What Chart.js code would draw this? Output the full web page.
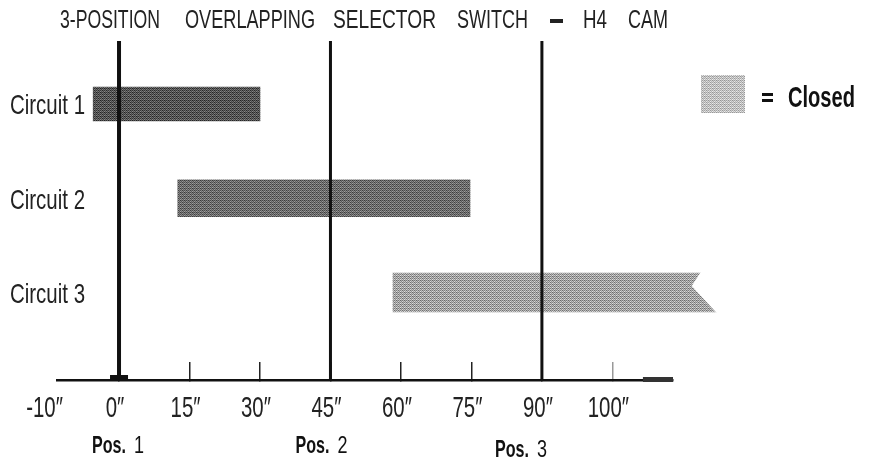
<!DOCTYPE html>
<html>
<head>
<meta charset="utf-8">
<script src="https://cdn.jsdelivr.net/npm/chart.js@4.4.1/dist/chart.umd.min.js"></script>
<style>
  html, body { margin: 0; padding: 0; background: #fff; }
  #wrap { width: 873px; height: 460px; position: relative; }
</style>
</head>
<body>
<div id="wrap"><canvas id="camChart"></canvas></div>
<script>
// cam chart data
const circuits = ["Circuit 1", "Circuit 2", "Circuit 3"];
const closedFrom = [-5.5, 12.5, 58.3];
const closedTo = [30, 74.7, 127.2];
const positions = [0, 45, 90];
const posNames = ["1", "2", "3"];
const tickValues = [-15, 0, 15, 30, 45, 60, 75, 90, 105];
const tickLabels = ["-10\u2033", "0\u2033", "15\u2033", "30\u2033", "45\u2033", "60\u2033", "75\u2033", "90\u2033", "100\u2033"];

const Y_TOP = -0.668, Y_BOTTOM = 2.928;
const SANS = "'Liberation Sans', Arial, 'DejaVu Sans', sans-serif";

// ordered dither so the fills look like the scanned screen tone
const BAYER = [[0, 8, 2, 10], [12, 4, 14, 6], [3, 11, 1, 9], [15, 7, 13, 5]];
function ditherFill(base, amp) {
  const c = document.createElement("canvas");
  c.width = 4; c.height = 4;
  const g = c.getContext("2d");
  for (let r = 0; r < 4; r++) {
    for (let k = 0; k < 4; k++) {
      const v = Math.max(0, Math.min(255, Math.round(base + (BAYER[r][k] - 7.5) * amp)));
      g.fillStyle = "rgb(" + v + "," + v + "," + v + ")";
      g.fillRect(k, r, 1, 1);
    }
  }
  return g.createPattern(c, "repeat");
}

const barColors = [ditherFill(84, 7), ditherFill(108, 7), ditherFill(163, 8)];
const barSizes = [34, 37, 39];

const datasets = [];
circuits.forEach((c, i) => {
  datasets.push({
    type: "bar",
    label: c,
    data: [{ x: [closedFrom[i], closedTo[i]], y: i }],
    backgroundColor: barColors[i],
    barThickness: barSizes[i],
    grouped: false,
    clip: false,
    order: 2
  });
});
positions.forEach((p, i) => {
  datasets.push({
    type: "line",
    label: "pos" + (i + 1),
    data: [{ x: p, y: Y_TOP }, { x: p, y: Y_BOTTOM }],
    borderColor: "#111",
    borderWidth: i == 0 ? 4 : 3,
    pointRadius: 0,
    clip: false,
    order: 0
  });
});

// condensed text: the scan uses a light narrow face
function squeeze(ctx, text, x, y, k) {
  const w = ctx.measureText(text).width;
  ctx.fillText(text, x, y, w * k);
}

// title, legend, labels, notch on circuit 3
const extras = {
  id: "extras",
  afterDatasetsDraw(chart) {
    const ctx = chart.ctx;
    const xs = chart.scales.x;
    const ys = chart.scales.y;
    const area = chart.chartArea;

    // ragged end of circuit 3
    const el = chart.getDatasetMeta(2).data[0];
    const top = el.y - el.height / 2, bot = el.y + el.height / 2;
    ctx.save();
    ctx.fillStyle = "#fff";
    ctx.beginPath();
    ctx.moveTo(el.x - 16, top - 1);
    ctx.lineTo(el.x - 25, top + el.height * 0.33);
    ctx.lineTo(el.x, bot + 1);
    ctx.lineTo(el.x + 3, bot + 1);
    ctx.lineTo(el.x + 3, top - 1);
    ctx.closePath();
    ctx.fill();

    // foot on the 0 line and the stub at the axis end
    ctx.fillStyle = "#111";
    ctx.fillRect(xs.getPixelForValue(0) - 9, area.bottom - 5, 18, 5);
    ctx.fillStyle = "#333";
    ctx.fillRect(xs.getPixelForValue(111.5), area.bottom - 3, area.right - xs.getPixelForValue(111.5), 5);

    ctx.fillStyle = "#222";
    ctx.textBaseline = "alphabetic";

    // title
    ctx.textAlign = "left";
    ctx.font = "25px " + SANS;
    const words = [["3-POSITION", 60, 100], ["OVERLAPPING", 185, 130], ["SELECTOR", 333, 103],
                   ["SWITCH", 457, 71], ["H4", 583, 24], ["CAM", 628, 40]];
    words.forEach(w => ctx.fillText(w[0], w[1], 28, w[2]));
    ctx.fillRect(550, 19, 13, 4);

    // circuit names
    ctx.font = "28px " + SANS;
    circuits.forEach((c, i) => {
      ctx.fillText(c, 10, ys.getPixelForValue(i) + 10.5, 75);
    });

    // x tick labels
    ctx.textAlign = "center";
    ctx.font = "30px " + SANS;
    tickValues.forEach((v, i) => {
      squeeze(ctx, tickLabels[i], xs.getPixelForValue(v) - 4, 417, 0.68);
    });

    // legend
    ctx.fillStyle = ditherFill(192, 6);
    ctx.fillRect(701, 75, 44, 38);
    ctx.fillStyle = "#111";
    ctx.fillRect(762, 93, 11, 3);
    ctx.fillRect(762, 99, 11, 3);
    ctx.textAlign = "left";
    ctx.font = "bold 30px " + SANS;
    ctx.fillText("Closed", 788, 107, 67);

    // position names under the axis
    const shift = [0, -8, -20];
    const drop = [0, 0, 4];
    positions.forEach((p, i) => {
      const cx = xs.getPixelForValue(p) + shift[i];
      ctx.font = "bold 24px " + SANS;
      ctx.fillText("Pos.", cx - 27, 453 + drop[i], 34);
      ctx.font = "24px " + SANS;
      squeeze(ctx, posNames[i], cx + 15, 453 + drop[i], 0.75);
    });
    ctx.restore();
  }
};

const ctx = document.getElementById("camChart").getContext("2d");
const camChart = new Chart(ctx, {
  data: { datasets: datasets },
  options: {
    indexAxis: "y",
    responsive: true,
    maintainAspectRatio: false,
    animation: false,
    layout: { padding: { top: 41, right: 200, left: 0, bottom: 0 } },
    plugins: {
      legend: { display: false },
      tooltip: { enabled: false },
      title: { display: false }
    },
    scales: {
      x: {
        type: "linear",
        min: -13.2,
        max: 117.9,
        afterBuildTicks: (scale) => {
          scale.ticks = tickValues.map(v => ({ value: v }));
        },
        afterFit: (scale) => { scale.height = 80; },
        border: { display: true, color: "#111", width: 2.5 },
        grid: {
          drawOnChartArea: false,
          drawTicks: true,
          tickLength: -18,
          lineWidth: 1.5,
          color: (c) => {
            if (!c.tick) return "#222";
            if (c.tick.value == -15) return "rgba(0,0,0,0)";
            if (c.tick.value == 105) return "#999";
            return "#222";
          }
        },
        ticks: { display: false }
      },
      y: {
        type: "linear",
        position: "left",
        reverse: true,
        offset: false,
        min: Y_TOP,
        max: Y_BOTTOM,
        afterBuildTicks: (scale) => {
          scale.ticks = circuits.map((c, i) => ({ value: i }));
        },
        afterFit: (scale) => { scale.width = 57; },
        border: { display: false },
        grid: { display: false, drawTicks: false },
        ticks: { display: false }
      }
    }
  },
  plugins: [extras]
});
</script>
</body>
</html>
